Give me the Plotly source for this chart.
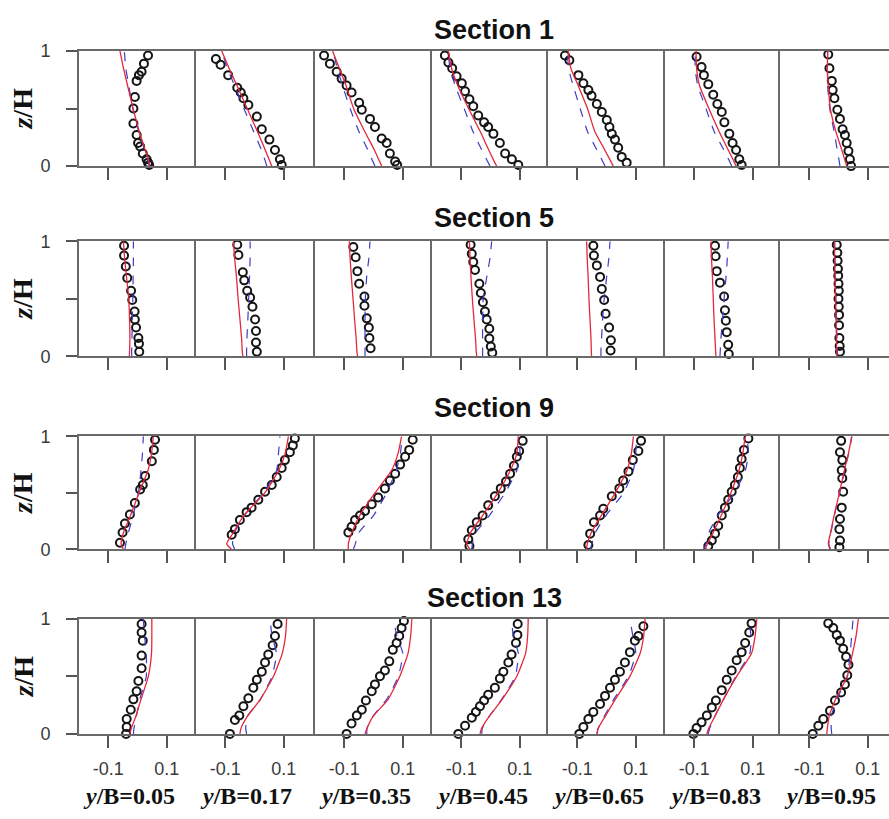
import plotly.graph_objects as go

# ---------------- data ----------------
SECTIONS = ["Section 1", "Section 5", "Section 9", "Section 13"]
YB_LABELS = ["0.05", "0.17", "0.35", "0.45", "0.65", "0.83", "0.95"]
X_TICKS = [-0.1, 0.1]
X_TICK_TEXT = ["-0.1", "0.1"]
Y_TICKS = [0, 0.5, 1]
Y_TICK_TEXT = ["0", "", "1"]

# z/H levels at which the two simulated profiles are given
LINE_Z = [0.0, 0.05, 0.15, 0.3, 0.5, 0.7, 0.85, 1.0]

# ---- Section 1 ----
S1_EXP_Z = [
    [0.96, 0.89, 0.82, 0.79, 0.74, 0.60, 0.50, 0.37, 0.27, 0.20, 0.17, 0.11, 0.06, 0.03, 0.01],
    [0.93, 0.88, 0.79, 0.68, 0.64, 0.59, 0.53, 0.43, 0.32, 0.23, 0.14, 0.06, 0.01],
    [0.96, 0.89, 0.82, 0.76, 0.70, 0.64, 0.55, 0.49, 0.41, 0.34, 0.24, 0.20, 0.11, 0.04, 0.01],
    [0.96, 0.90, 0.85, 0.78, 0.72, 0.65, 0.58, 0.52, 0.44, 0.38, 0.34, 0.28, 0.20, 0.11, 0.06, 0.01],
    [0.96, 0.92, 0.79, 0.72, 0.66, 0.61, 0.54, 0.47, 0.40, 0.34, 0.28, 0.23, 0.16, 0.08, 0.03],
    [0.95, 0.86, 0.79, 0.71, 0.62, 0.54, 0.47, 0.38, 0.28, 0.20, 0.14, 0.06, 0.01],
    [0.97, 0.85, 0.74, 0.66, 0.59, 0.49, 0.41, 0.32, 0.27, 0.20, 0.13, 0.06, 0.00],
]
S1_EXP_X = [
    [0.036, 0.022, 0.014, 0.005, -0.003, -0.009, -0.014, -0.014, -0.003, 0.002, 0.009, 0.018, 0.031, 0.036, 0.040],
    [-0.132, -0.116, -0.090, -0.059, -0.047, -0.038, -0.021, 0.008, 0.025, 0.051, 0.070, 0.087, 0.093],
    [-0.169, -0.149, -0.126, -0.109, -0.092, -0.075, -0.049, -0.040, -0.012, 0.005, 0.028, 0.045, 0.056, 0.074, 0.081],
    [-0.156, -0.144, -0.131, -0.116, -0.098, -0.087, -0.072, -0.059, -0.042, -0.022, -0.008, 0.010, 0.032, 0.050, 0.073, 0.095],
    [-0.142, -0.127, -0.096, -0.079, -0.062, -0.051, -0.033, -0.016, 0.001, 0.010, 0.018, 0.029, 0.040, 0.052, 0.069],
    [-0.092, -0.075, -0.067, -0.052, -0.035, -0.021, -0.006, 0.003, 0.020, 0.031, 0.043, 0.054, 0.062],
    [-0.035, -0.031, -0.023, -0.020, -0.014, -0.004, 0.005, 0.014, 0.022, 0.028, 0.034, 0.039, 0.043],
]
S1_RED = [
    [0.043, 0.038, 0.025, 0.006, -0.015, -0.034, -0.048, -0.060],
    [0.059, 0.051, 0.035, 0.010, -0.025, -0.060, -0.087, -0.112],
    [0.028, 0.019, 0.001, -0.030, -0.068, -0.094, -0.117, -0.140],
    [0.021, 0.011, -0.008, -0.035, -0.075, -0.112, -0.133, -0.144],
    [0.023, 0.013, -0.008, -0.040, -0.065, -0.097, -0.122, -0.131],
    [0.043, 0.034, 0.014, -0.015, -0.050, -0.082, -0.092, -0.094],
    [0.028, 0.022, 0.010, -0.009, -0.028, -0.035, -0.038, -0.037],
]
S1_BLUE = [
    [0.040, 0.035, 0.023, 0.004, -0.016, -0.030, -0.040, -0.045],
    [0.042, 0.036, 0.022, -0.003, -0.036, -0.068, -0.093, -0.112],
    [0.005, -0.004, -0.021, -0.050, -0.080, -0.106, -0.124, -0.138],
    [-0.002, -0.012, -0.032, -0.060, -0.090, -0.121, -0.138, -0.146],
    [-0.005, -0.015, -0.035, -0.065, -0.090, -0.114, -0.130, -0.133],
    [0.028, 0.019, -0.001, -0.032, -0.060, -0.088, -0.097, -0.096],
    [0.005, 0.002, -0.005, -0.015, -0.030, -0.037, -0.038, -0.037],
]

# ---- Section 5 ----
S5_EXP_Z = [
    [0.96, 0.875, 0.78, 0.68, 0.57, 0.49, 0.39, 0.32, 0.25, 0.16, 0.11, 0.04],
    [0.97, 0.88, 0.73, 0.66, 0.57, 0.51, 0.43, 0.32, 0.22, 0.12, 0.04],
    [0.95, 0.86, 0.74, 0.63, 0.52, 0.44, 0.33, 0.25, 0.16, 0.07],
    [0.97, 0.89, 0.82, 0.75, 0.63, 0.55, 0.47, 0.39, 0.32, 0.24, 0.155, 0.085, 0.03],
    [0.96, 0.875, 0.79, 0.69, 0.585, 0.49, 0.37, 0.25, 0.14, 0.05],
    [0.96, 0.87, 0.74, 0.64, 0.52, 0.40, 0.31, 0.21, 0.10, 0.02],
    [0.97, 0.90, 0.83, 0.76, 0.70, 0.63, 0.57, 0.50, 0.43, 0.36, 0.27, 0.16, 0.09, 0.04],
]
S5_EXP_X = [
    [-0.046, -0.046, -0.040, -0.035, -0.022, -0.018, -0.010, -0.009, -0.005, 0.003, 0.005, 0.006],
    [-0.059, -0.055, -0.040, -0.035, -0.025, -0.015, -0.007, 0.002, 0.005, 0.005, 0.008],
    [-0.069, -0.061, -0.055, -0.049, -0.031, -0.031, -0.023, -0.016, -0.014, -0.010],
    [-0.068, -0.064, -0.059, -0.053, -0.038, -0.033, -0.026, -0.019, -0.013, -0.004, -0.004, 0.001, 0.006],
    [-0.045, -0.043, -0.033, -0.022, -0.016, -0.008, -0.003, 0.009, 0.015, 0.014],
    [-0.029, -0.027, -0.023, -0.012, 0.002, 0.005, 0.008, 0.011, 0.016, 0.018],
    [-0.006, -0.004, -0.003, -0.002, -0.001, 0.000, 0.001, 0.000, 0.001, 0.002, 0.002, 0.003, 0.004, 0.005],
]
S5_RED = [
    [-0.028, -0.027, -0.026, -0.027, -0.030, -0.038, -0.044, -0.048],
    [-0.040, -0.042, -0.044, -0.049, -0.056, -0.062, -0.068, -0.072],
    [-0.055, -0.057, -0.059, -0.064, -0.070, -0.076, -0.080, -0.083],
    [-0.047, -0.049, -0.051, -0.056, -0.062, -0.067, -0.070, -0.072],
    [-0.051, -0.052, -0.053, -0.056, -0.060, -0.063, -0.066, -0.068],
    [-0.026, -0.027, -0.029, -0.032, -0.035, -0.038, -0.041, -0.043],
    [-0.006, -0.006, -0.007, -0.008, -0.010, -0.012, -0.013, -0.014],
]
S5_BLUE = [
    [-0.020, -0.020, -0.019, -0.018, -0.016, -0.015, -0.014, -0.014],
    [-0.027, -0.027, -0.026, -0.023, -0.020, -0.017, -0.015, -0.015],
    [-0.029, -0.029, -0.029, -0.029, -0.028, -0.023, -0.016, -0.012],
    [-0.027, -0.027, -0.027, -0.027, -0.025, -0.012, -0.002, 0.004],
    [-0.019, -0.019, -0.017, -0.014, -0.008, 0.001, 0.008, 0.012],
    [-0.012, -0.011, -0.009, -0.004, 0.002, 0.009, 0.013, 0.016],
    [-0.004, -0.004, -0.005, -0.007, -0.009, -0.011, -0.012, -0.013],
]

# ---- Section 9 ----
S9_EXP_Z = [
    [0.97, 0.88, 0.78, 0.65, 0.57, 0.53, 0.41, 0.31, 0.23, 0.15, 0.06],
    [0.98, 0.92, 0.86, 0.79, 0.72, 0.64, 0.57, 0.51, 0.44, 0.37, 0.33, 0.26, 0.18, 0.13],
    [0.97, 0.88, 0.82, 0.75, 0.67, 0.61, 0.54, 0.46, 0.40, 0.34, 0.30, 0.26, 0.20, 0.15],
    [0.96, 0.87, 0.82, 0.74, 0.67, 0.60, 0.54, 0.47, 0.39, 0.30, 0.24, 0.17, 0.09, 0.03],
    [0.96, 0.87, 0.79, 0.69, 0.61, 0.54, 0.47, 0.36, 0.30, 0.24, 0.14, 0.04],
    [0.98, 0.88, 0.80, 0.72, 0.64, 0.57, 0.51, 0.44, 0.37, 0.30, 0.21, 0.14, 0.08, 0.03],
    [0.96, 0.86, 0.79, 0.70, 0.63, 0.51, 0.37, 0.27, 0.18, 0.08, 0.02],
]
S9_EXP_X = [
    [0.060, 0.056, 0.049, 0.026, 0.018, 0.009, -0.009, -0.026, -0.043, -0.051, -0.060],
    [0.138, 0.131, 0.121, 0.104, 0.093, 0.076, 0.059, 0.036, 0.013, -0.010, -0.027, -0.050, -0.067, -0.078],
    [0.134, 0.122, 0.108, 0.091, 0.074, 0.056, 0.039, 0.016, -0.006, -0.029, -0.046, -0.063, -0.075, -0.086],
    [0.110, 0.098, 0.090, 0.080, 0.067, 0.053, 0.035, 0.015, -0.008, -0.027, -0.047, -0.064, -0.076, -0.072],
    [0.118, 0.109, 0.090, 0.075, 0.057, 0.044, 0.018, -0.011, -0.022, -0.043, -0.056, -0.062],
    [0.085, 0.070, 0.062, 0.056, 0.049, 0.039, 0.028, 0.016, 0.005, -0.006, -0.018, -0.029, -0.040, -0.052],
    [0.009, 0.005, 0.013, 0.011, 0.013, 0.016, 0.011, 0.005, 0.003, 0.005, 0.003],
]
S9_RED = [
    [-0.048, -0.056, -0.048, -0.024, 0.005, 0.036, 0.048, 0.054],
    [-0.078, -0.095, -0.072, -0.037, 0.035, 0.083, 0.105, 0.116],
    [-0.086, -0.086, -0.074, -0.047, 0.005, 0.062, 0.084, 0.096],
    [-0.070, -0.081, -0.068, -0.027, 0.025, 0.068, 0.090, 0.095],
    [-0.068, -0.066, -0.052, -0.018, 0.030, 0.070, 0.085, 0.092],
    [-0.063, -0.055, -0.035, -0.008, 0.025, 0.053, 0.066, 0.074],
    [-0.029, -0.035, -0.027, -0.015, 0.003, 0.020, 0.034, 0.045],
]
S9_BLUE = [
    [-0.043, -0.040, -0.031, -0.015, 0.003, 0.012, 0.017, 0.020],
    [-0.067, -0.075, -0.068, -0.035, 0.030, 0.076, 0.082, 0.087],
    [-0.069, -0.062, -0.050, 0.000, 0.045, 0.078, 0.092, 0.098],
    [-0.064, -0.062, -0.050, -0.004, 0.050, 0.090, 0.101, 0.095],
    [-0.056, -0.050, -0.038, -0.002, 0.058, 0.092, 0.100, 0.103],
    [-0.069, -0.060, -0.050, -0.020, 0.038, 0.075, 0.085, 0.080],
    [-0.027, -0.033, -0.026, -0.014, 0.004, 0.021, 0.035, 0.046],
]

# ---- Section 13 ----
S13_EXP_Z = [
    [0.955, 0.88, 0.81, 0.68, 0.57, 0.46, 0.37, 0.30, 0.21, 0.13, 0.06, 0.00],
    [0.955, 0.85, 0.77, 0.69, 0.62, 0.54, 0.47, 0.40, 0.31, 0.24, 0.16, 0.12, 0.00],
    [0.98, 0.92, 0.85, 0.79, 0.73, 0.63, 0.55, 0.50, 0.43, 0.37, 0.29, 0.21, 0.16, 0.09, 0.00],
    [0.955, 0.86, 0.79, 0.69, 0.62, 0.54, 0.48, 0.40, 0.34, 0.29, 0.24, 0.19, 0.14, 0.07, 0.00],
    [0.935, 0.85, 0.81, 0.71, 0.62, 0.54, 0.47, 0.40, 0.33, 0.26, 0.19, 0.13, 0.06, 0.00],
    [0.96, 0.88, 0.79, 0.71, 0.64, 0.55, 0.47, 0.38, 0.29, 0.23, 0.16, 0.10, 0.05, 0.00],
    [0.96, 0.92, 0.86, 0.81, 0.74, 0.67, 0.60, 0.51, 0.43, 0.36, 0.29, 0.20, 0.13, 0.07, 0.00],
]
S13_EXP_X = [
    [0.014, 0.014, 0.018, 0.014, 0.014, 0.003, -0.003, -0.014, -0.023, -0.037, -0.037, -0.039],
    [0.079, 0.070, 0.062, 0.047, 0.036, 0.025, 0.008, -0.004, -0.021, -0.038, -0.052, -0.067, -0.084],
    [0.104, 0.096, 0.088, 0.079, 0.066, 0.054, 0.039, 0.022, 0.005, -0.006, -0.026, -0.040, -0.057, -0.075, -0.092],
    [0.093, 0.092, 0.087, 0.072, 0.061, 0.044, 0.032, 0.015, -0.008, -0.022, -0.036, -0.050, -0.064, -0.087, -0.110],
    [0.126, 0.109, 0.097, 0.080, 0.063, 0.046, 0.029, 0.012, -0.005, -0.022, -0.045, -0.062, -0.079, -0.093],
    [0.096, 0.088, 0.074, 0.062, 0.045, 0.028, 0.011, -0.006, -0.026, -0.040, -0.057, -0.075, -0.092, -0.103],
    [-0.035, -0.018, -0.006, 0.005, 0.016, 0.026, 0.034, 0.030, 0.022, 0.009, -0.012, -0.029, -0.052, -0.069, -0.088],
]
S13_RED = [
    [-0.026, -0.021, -0.006, 0.012, 0.037, 0.048, 0.049, 0.049],
    [-0.050, -0.046, -0.025, 0.020, 0.065, 0.095, 0.106, 0.110],
    [-0.029, -0.022, -0.002, 0.050, 0.090, 0.118, 0.127, 0.131],
    [-0.036, -0.030, -0.005, 0.040, 0.090, 0.120, 0.127, 0.129],
    [-0.033, -0.028, -0.005, 0.030, 0.080, 0.115, 0.127, 0.132],
    [-0.057, -0.050, -0.030, 0.000, 0.045, 0.096, 0.108, 0.114],
    [-0.040, -0.038, -0.032, -0.010, 0.030, 0.048, 0.060, 0.068],
]
S13_BLUE = [
    [-0.014, -0.012, -0.004, 0.008, 0.030, 0.030, 0.024, 0.020],
    [-0.027, -0.030, -0.025, 0.020, 0.060, 0.075, 0.060, 0.053],
    [-0.023, -0.022, -0.003, 0.045, 0.085, 0.100, 0.080, 0.068],
    [-0.030, -0.028, -0.005, 0.038, 0.085, 0.095, 0.078, 0.072],
    [-0.033, -0.028, -0.008, 0.025, 0.075, 0.100, 0.090, 0.080],
    [-0.052, -0.047, -0.030, 0.000, 0.042, 0.090, 0.094, 0.086],
    [-0.023, -0.025, -0.025, -0.005, 0.030, 0.040, 0.045, 0.050],
]

ROWS_DATA = [
    (S1_EXP_Z, S1_EXP_X, S1_RED, S1_BLUE),
    (S5_EXP_Z, S5_EXP_X, S5_RED, S5_BLUE),
    (S9_EXP_Z, S9_EXP_X, S9_RED, S9_BLUE),
    (S13_EXP_Z, S13_EXP_X, S13_RED, S13_BLUE),
]

# ---------------- layout geometry (pixels) ----------------
W, H = 889, 819
COL_L = [79, 196, 315, 432, 548, 665, 780]
COL_R = [196, 315, 432, 548, 665, 780, 889]
ROW_T = [42, 237, 437, 624]
ROW_B = [160, 355, 553, 742]
PX_PER_UNIT = 117 / 0.4
TITLE_Y = [20, 213, 408, 603]
ZH_Y = [101, 296, 495, 683]

FRAME = "#6a6a6a"
RED = "#e4283c"
BLUE = "#3c3cc8"

fig = go.Figure()
layout_axes = {}
n = 0
for r in range(4):
    ez_all, ex_all, red_all, blue_all = ROWS_DATA[r]
    for c in range(7):
        n += 1
        xa = "x" if n == 1 else f"x{n}"
        ya = "y" if n == 1 else f"y{n}"
        fig.add_trace(go.Scatter(
            x=ex_all[c], y=ez_all[c], mode="markers",
            marker=dict(symbol="circle-open", size=8, color="#151515",
                        line=dict(width=2, color="#151515")),
            cliponaxis=False, showlegend=False, xaxis=xa, yaxis=ya))
        fig.add_trace(go.Scatter(
            x=blue_all[c], y=LINE_Z, mode="lines",
            line=dict(color=BLUE, width=1.2, dash="dash", shape="spline", smoothing=0.5),
            showlegend=False, xaxis=xa, yaxis=ya))
        fig.add_trace(go.Scatter(
            x=red_all[c], y=LINE_Z, mode="lines",
            line=dict(color=RED, width=1.3, shape="spline", smoothing=0.5),
            showlegend=False, xaxis=xa, yaxis=ya))

        w = COL_R[c] - COL_L[c]
        xr = [-0.2, -0.2 + w / PX_PER_UNIT]
        key_x = "xaxis" if n == 1 else f"xaxis{n}"
        key_y = "yaxis" if n == 1 else f"yaxis{n}"
        layout_axes[key_x] = dict(
            domain=[COL_L[c] / W, COL_R[c] / W], range=xr, anchor=ya,
            showline=True, linecolor=FRAME, linewidth=2, mirror=True,
            ticks="outside", tickvals=X_TICKS, ticktext=X_TICK_TEXT,
            ticklen=12, tickwidth=1.5, tickcolor="#555555",
            showticklabels=(r == 3), ticklabelstandoff=6,
            tickfont=dict(family="Liberation Sans, Arial", size=18, color="#3a3a3a"),
            showgrid=False, zeroline=False, fixedrange=True)
        layout_axes[key_y] = dict(
            domain=[1 - ROW_B[r] / H, 1 - ROW_T[r] / H], range=[0, 1], anchor=xa,
            showline=True, linecolor=FRAME, linewidth=2, mirror=False,
            ticks="outside" if c == 0 else "", tickvals=Y_TICKS, ticktext=Y_TICK_TEXT,
            ticklen=11, tickwidth=1.5, tickcolor="#555555",
            showticklabels=(c == 0), ticklabelstandoff=12,
            tickfont=dict(family="Liberation Sans, Arial", size=18, color="#3a3a3a"),
            showgrid=False, zeroline=False, fixedrange=True)

annotations = []
for r in range(4):
    annotations.append(dict(
        text=f"<b>{SECTIONS[r]}</b>", x=494 / W, y=1 - TITLE_Y[r] / H,
        xref="paper", yref="paper", xanchor="center", yanchor="middle",
        showarrow=False, font=dict(family="Liberation Sans, Arial", size=27, color="#111")))
    annotations.append(dict(
        text="<b><i>z</i>/H</b>", x=23 / W, y=1 - ZH_Y[r] / H,
        xref="paper", yref="paper", xanchor="center", yanchor="middle",
        textangle=-90, showarrow=False,
        font=dict(family="Liberation Serif, Times New Roman", size=28, color="#111")))
for c in range(7):
    annotations.append(dict(
        text=f"<b><i>y</i>/B={YB_LABELS[c]}</b>", x=(COL_L[c] + 50) / W, y=1 - 806 / H,
        xref="paper", yref="paper", xanchor="center", yanchor="middle",
        showarrow=False,
        font=dict(family="Liberation Serif, Times New Roman", size=24, color="#111")))

fig.update_layout(
    width=W, height=H, margin=dict(l=0, r=0, t=0, b=0),
    paper_bgcolor="white", plot_bgcolor="white",
    annotations=annotations, showlegend=False, **layout_axes)

fig.write_html("out.html")
